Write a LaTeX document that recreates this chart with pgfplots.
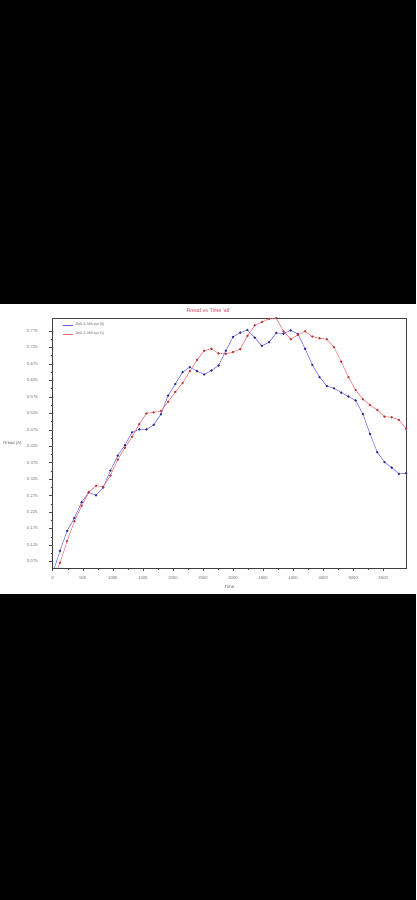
\documentclass[border=0pt]{standalone}
\usepackage{fontspec}
\setmainfont{Liberation Sans}
\usepackage{pgfplots}
\usepackage{pgfplotstable}
\pgfplotsset{compat=1.18}
\definecolor{bline}{RGB}{95,95,235}
\definecolor{bmark}{RGB}{40,40,140}
\definecolor{rline}{RGB}{240,100,100}
\definecolor{rmark}{RGB}{185,55,55}
\definecolor{titlered}{RGB}{200,70,90}
\pgfplotstableread{
t v
0 0.040
120 0.107
240 0.168
360 0.207
480 0.255
600 0.285
720 0.276
840 0.300
960 0.351
1080 0.396
1200 0.428
1320 0.467
1440 0.476
1560 0.476
1680 0.490
1800 0.522
1920 0.579
2040 0.614
2160 0.650
2280 0.665
2400 0.653
2520 0.643
2640 0.655
2760 0.670
2880 0.715
3000 0.757
3120 0.770
3240 0.778
3360 0.755
3480 0.730
3600 0.741
3720 0.769
3840 0.767
3960 0.777
4080 0.766
4200 0.721
4320 0.672
4440 0.635
4560 0.608
4680 0.601
4800 0.588
4920 0.576
5040 0.564
5160 0.523
5280 0.462
5400 0.407
5520 0.377
5640 0.360
5760 0.341
5880 0.343
}\blue
\pgfplotstableread{
t v
0 0.020
120 0.071
240 0.137
360 0.197
480 0.244
600 0.285
720 0.305
840 0.302
960 0.336
1080 0.384
1200 0.420
1320 0.454
1440 0.492
1560 0.525
1680 0.528
1800 0.532
1920 0.560
2040 0.590
2160 0.617
2280 0.653
2400 0.687
2520 0.715
2640 0.721
2760 0.707
2880 0.706
3000 0.711
3120 0.720
3240 0.760
3360 0.792
3480 0.802
3600 0.812
3720 0.814
3840 0.774
3960 0.750
4080 0.763
4200 0.774
4320 0.758
4440 0.753
4560 0.750
4680 0.726
4800 0.682
4920 0.635
5040 0.596
5160 0.568
5280 0.550
5400 0.535
5520 0.515
5640 0.513
5760 0.505
5880 0.478
}\red
\begin{document}
\begin{tikzpicture}[x=1pt,y=1pt]
\fill[black] (0,0) rectangle (416,900);
\fill[white] (0,306) rectangle (416,596);
\begin{axis}[
  at={(52.3pt,332pt)}, anchor=south west,
  scale only axis, width=353.4pt, height=250pt,
  xmin=0, xmax=5880, ymin=0.0552, ymax=0.8145,
  xtick={0,500,...,5500},
  ytick={0.075,0.125,...,0.776},
  minor x tick num=1, minor y tick num=1,
  xtick pos=bottom, ytick pos=left,
  tick align=outside,
  major tick length=3.5pt, minor tick length=2pt,
  every tick/.style={black!70, line width=0.5pt},
  axis line style={black!75, line width=0.7pt},
  /pgf/number format/assume math mode=true,
  tick label style={font=\fontsize{4.2}{4.8}\selectfont, text=black!55},
  yticklabel style={xshift=-8pt, /pgf/number format/.cd, fixed, fixed zerofill, precision=3},
  xticklabel style={yshift=-1.5pt, /pgf/number format/.cd, fixed, 1000 sep={}},
  scaled ticks=false,
  legend style={at={(rel axis cs:0,1)}, anchor=north west, xshift=9pt, yshift=-2pt,
    draw=none, fill=none, inner sep=1pt, row sep=0.6pt,
    font=\fontsize{3.6}{4}\selectfont, text=black!60},
  legend image code/.code={\draw[#1] (0pt,0pt) -- (10pt,0pt);},
]
\addplot[bline, line width=0.5pt, mark=*, mark size=0.9pt, mark options={bmark, fill=bmark}] table[x=t,y=v] {\blue};
\addlegendentry{2le0-3-388.xyz (0)}
\addplot[rline, line width=0.5pt, mark=*, mark size=0.9pt, mark options={rmark, fill=rmark}] table[x=t,y=v] {\red};
\addlegendentry{2le0-3-388.xyz (1)}
\end{axis}
\node[text=titlered, font=\fontsize{5.4}{6}\selectfont] at (208,589) {Rread vs Time \textquotesingle all\textquotesingle};
\node[text=black!60, font=\fontsize{4.2}{5}\selectfont] at (12,457) {Rread (A)};
\node[text=black!60, font=\fontsize{4.4}{5}\selectfont] at (229,313.5) {Time};
\end{tikzpicture}
\end{document}
